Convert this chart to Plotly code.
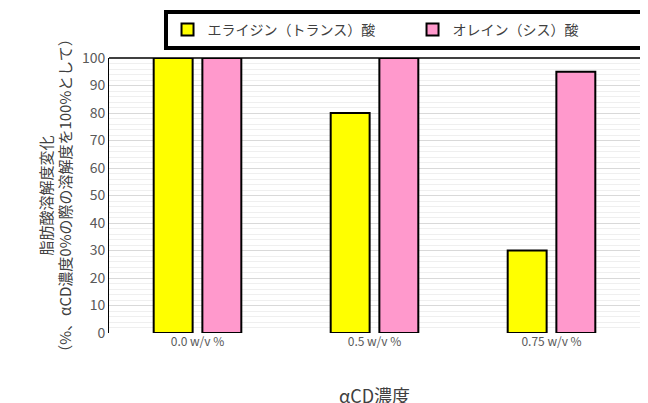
import plotly.graph_objects as go

categories = ["0.0 w/v %", "0.5 w/v %", "0.75 w/v %"]
elaidic = [100, 80, 30]
oleic = [100, 100, 95]

font = "Noto Sans CJK JP"

fig = go.Figure()
fig.add_trace(go.Bar(x=categories, y=elaidic, name="エライジン（トランス）酸",
                     marker=dict(color="#ffff00", line=dict(color="black", width=2))))
fig.add_trace(go.Bar(x=categories, y=oleic, name="オレイン（シス）酸",
                     marker=dict(color="#ff99cc", line=dict(color="black", width=2))))

fig.update_layout(
    width=648, height=403,
    margin=dict(l=101, r=16, t=50, b=78, autoexpand=False),
    barmode="group", bargap=0.45, bargroupgap=0.2,
    plot_bgcolor="white", paper_bgcolor="white",
    font=dict(family=font, color="#595959", size=13),
    showlegend=True,
    legend=dict(orientation="h", xref="container", yref="container",
                x=0.24, xanchor="left", y=0.995, yanchor="top",
                bordercolor="black", borderwidth=4, bgcolor="white",
                font=dict(size=14, color="#404040"), entrywidth=200,
                itemwidth=30),
    xaxis=dict(showline=False, tickfont=dict(size=12, color="#595959")),
    yaxis=dict(range=[0, 100], dtick=10, gridcolor="#d9d9d9",
               minor=dict(dtick=2, showgrid=True, gridcolor="#efefef"),
               showline=True, linecolor="black", mirror=False,
               tickfont=dict(size=14, color="#595959"),
               title=dict(text="脂肪酸溶解度変化<br>（%、αCD濃度0%の際の溶解度を100%として）",
                          font=dict(size=15, color="#404040"), standoff=6)),
    annotations=[dict(text="αCD濃度", x=0.5, y=-0.17, xref="paper", yref="paper",
                      showarrow=False, yanchor="top",
                      font=dict(size=18, color="#404040"))],
    shapes=[dict(type="line", xref="paper", yref="paper", x0=0, x1=1, y0=1, y1=1,
                 line=dict(color="black", width=1.5))],
)

fig.write_html("out.html")
